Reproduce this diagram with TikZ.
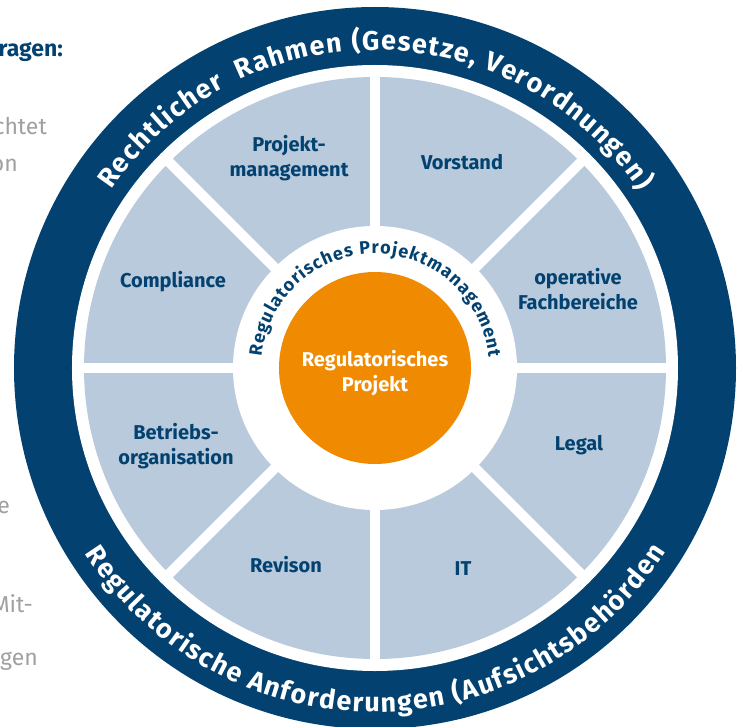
\documentclass[tikz,border=0pt]{standalone}
\usepackage{fontspec}
\setmainfont{Fira Sans}
\usepackage{tikz}
\usetikzlibrary{decorations.text}
\usetikzlibrary{positioning}
\definecolor{ringblue}{RGB}{3,66,112}
\definecolor{segblue}{RGB}{184,202,219}
\definecolor{projorange}{RGB}{240,138,0}
\definecolor{textgray}{RGB}{160,160,160}
\newcommand{\ringfont}{\fontsize{27}{27}\selectfont\bfseries\kern1.4pt}
\newcommand{\pmfont}{\fontsize{18}{18}\selectfont\bfseries\kern1pt}
\tikzset{
  seglabel/.style={text=ringblue,font=\fontsize{20}{25}\selectfont\bfseries,align=center,inner sep=0pt},
  sidetext/.style={text=textgray,font=\fontsize{23}{27}\selectfont,anchor=base east,inner sep=0pt}
}

\begin{document}
\begin{tikzpicture}[x=1pt,y=1pt,line join=round]
\useasboundingbox (-375,-358) rectangle (369,368);
\clip (-375,-358) rectangle (369,368);
\fill[color=ringblue] (0,0) circle (361);
\fill[color=white] (0,0) circle (303);
\fill[color=segblue] (0,0) circle (291);
\foreach \a in {0,45,...,315}
\draw[color=white,line width=10pt] (0,0) -- (\a:300);
\fill[color=white] (0,0) circle (142);
\node[circle,fill=projorange,minimum size=192pt,inner sep=0pt] (proj) at (0,0) {};
\node[text=white,align=center,inner sep=0pt,font=\fontsize{20}{25}\selectfont\bfseries] (projtext) at ([yshift=-5pt]proj.center) {Regulatorisches\\Projekt};
\path[decorate,decoration={text along path,text={|\pmfont|Regulatorisches Projektmanagement},text color=ringblue,text align=center}] (200:114) arc[start angle=200,end angle=-20,radius=114];
\path[decorate,decoration={text along path,text={|\ringfont|Rechtlicher {\kern6pt}Rahmen (Gesetze, Verordnungen)},text color=white,text align=center}] (178:318) arc[start angle=178,end angle=2,radius=318];
\path[decorate,decoration={text along path,text={|\ringfont|Regulatorische Anforderungen (Aufsichtsbehörden},text color=white,text align=center}] (182:344) arc[start angle=182,end angle=358,radius=344];
\node[seglabel] (projmgmt) at (-86,210) {Projekt-\\management};
\node[seglabel] (vorstand) at (87,206) {Vorstand};
\node[seglabel] (opfach) at (203,79) {operative\\Fachbereiche};
\node[seglabel] (legal) at (204,-77) {Legal};
\node[seglabel] (it) at (88,-201) {IT};
\node[seglabel] (revison) at (-89,-197) {Revison};
\node[seglabel] (betrieb) at (-199,-78) {Betriebs-\\organisation};
\node[seglabel] (compliance) at (-202,86) {Compliance};
\node[sidetext,text=ringblue,font=\fontsize{23}{27}\selectfont\bfseries] (fragA) at (-312,311) {ragen:};
\node[sidetext] (fragB) at (-328,233) {chtet};
\node[sidetext] (fragC) at (-357,196) {on};
\node[sidetext] (fragD) at (-365,-145) {e};
\node[sidetext] (fragE) at (-342,-244) {Mit-};
\node[sidetext] (fragF) at (-337,-297) {gen};
\end{tikzpicture}
\end{document}
